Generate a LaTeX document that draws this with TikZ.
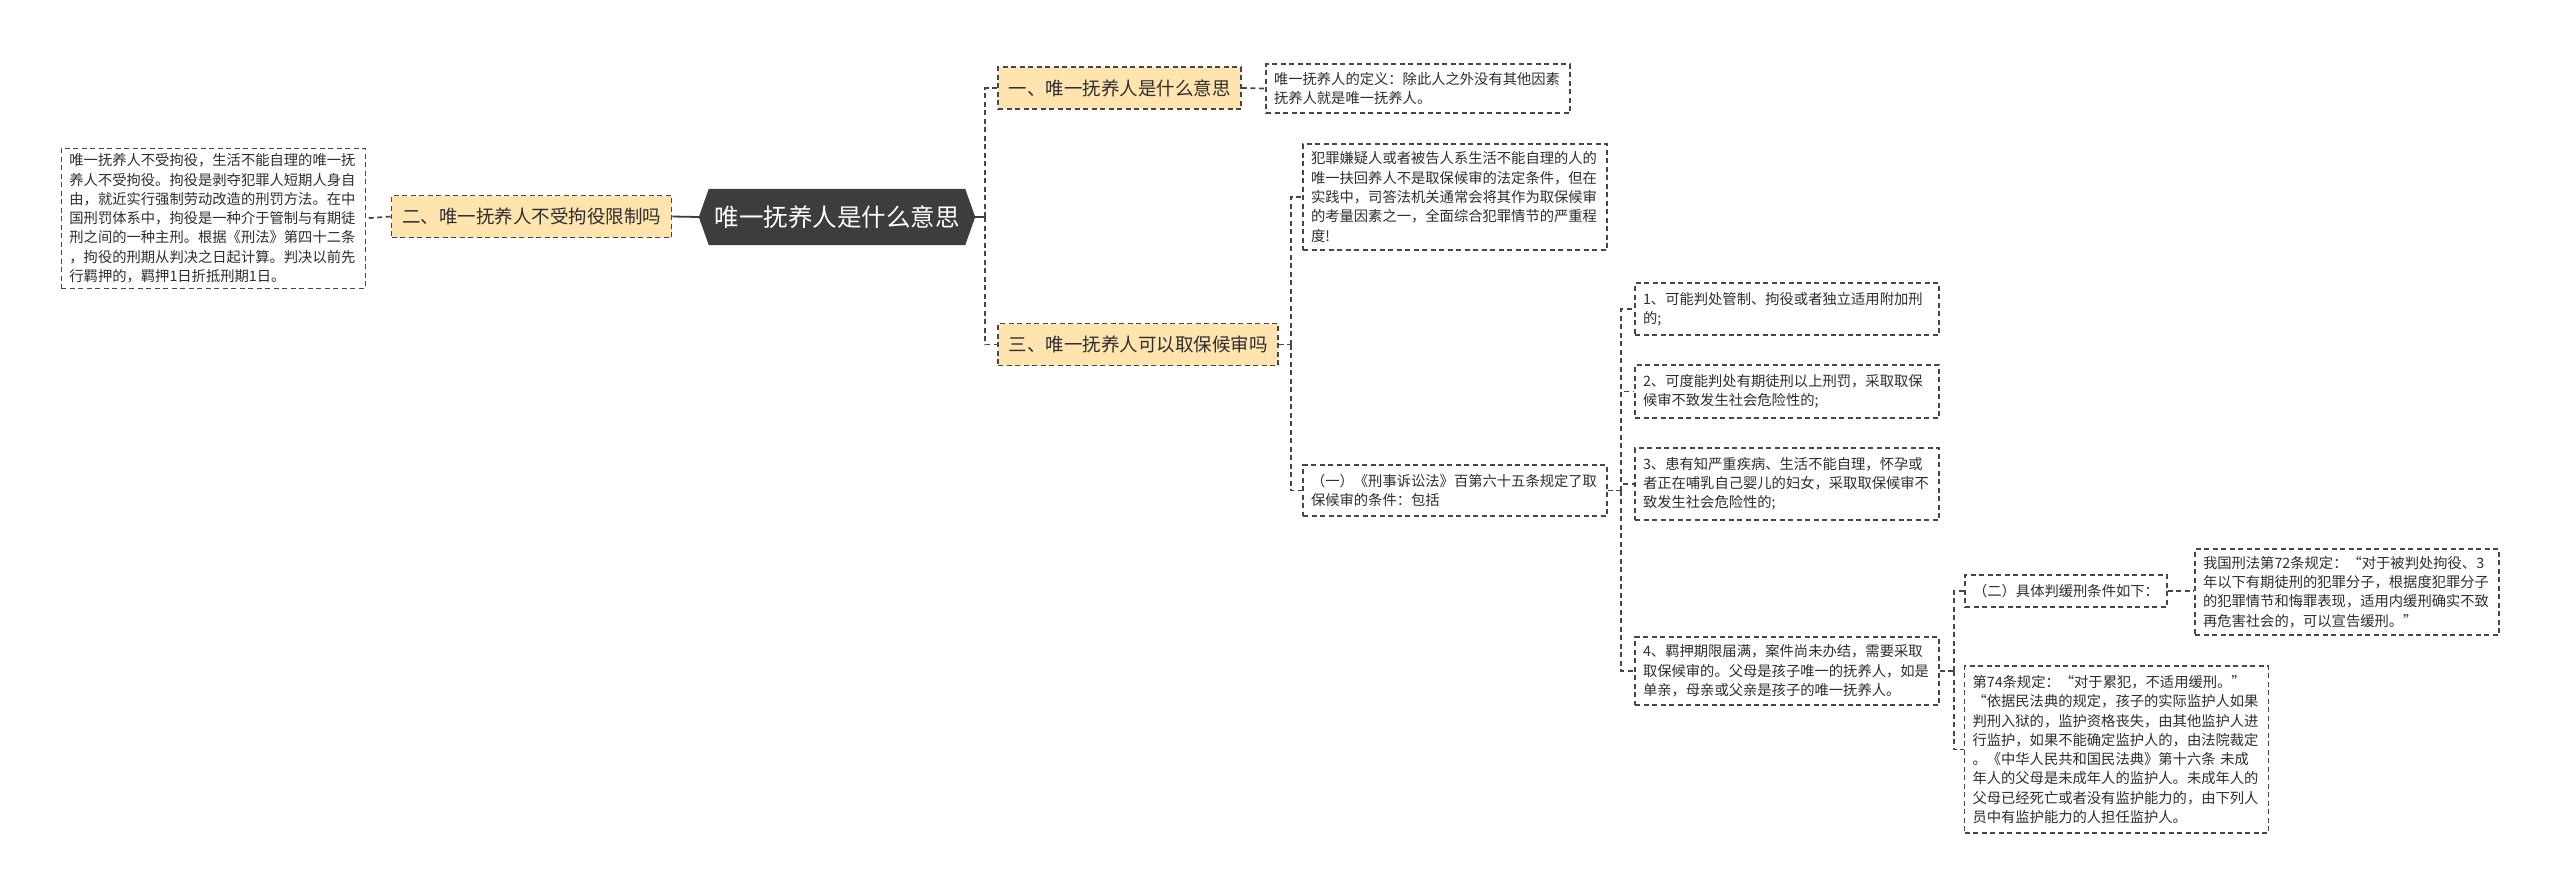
\documentclass[tikz,border=0pt]{standalone}
\usepackage{fontspec}
\setmainfont{Noto Sans CJK SC}
\usetikzlibrary{backgrounds}
\definecolor{lineC}{HTML}{474747}
\definecolor{txtC}{HTML}{2E2E2E}
\definecolor{orangeF}{HTML}{FFE4B0}
\definecolor{rootF}{HTML}{3D3D3D}
\begin{document}
\begin{tikzpicture}[x=1pt,y=-1pt,
  leaf/.style={draw=lineC, line width=1.6pt, dash pattern=on 5pt off 3.5pt, fill=white,
    text=txtC, font=\fontsize{14.3}{19.3}\selectfont, align=left, text width=288pt,
    inner xsep=8pt, inner ysep=0pt, anchor=center},
  leafnat/.style={draw=lineC, line width=1.6pt, dash pattern=on 5pt off 3.5pt, fill=white,
    text=txtC, font=\fontsize{14.3}{19.3}\selectfont, align=left,
    inner xsep=8pt, inner ysep=0pt, anchor=center},
  topic/.style={draw=lineC, line width=1.6pt, dash pattern=on 5pt off 3.5pt, fill=orangeF,
    text=txtC, font=\fontsize{18.5}{22}\selectfont, inner xsep=10.5pt, inner ysep=0pt,
    minimum height=42pt, anchor=center},
  rootnode/.style={text=white, font=\fontsize{24.5}{28}\selectfont, minimum width=276pt,
    minimum height=56pt, inner sep=0pt, anchor=center},
  dconn/.style={draw=lineC, line width=1.7pt, dash pattern=on 5pt off 3.5pt},
  sconn/.style={draw=lineC!85!black, line width=1.8pt}
]
\begin{scope}[on background layer]
\fill[white] (0,0) rectangle (2560,895);
\end{scope}
\useasboundingbox (0,0) rectangle (2560,895);

% root
\node[rootnode] (root) at (837,217) {唯一抚养人是什么意思};
\begin{scope}[on background layer]
\fill[rootF] (root.west) -- ([xshift=10pt]root.north west) -- ([xshift=-10pt]root.north east)
  -- (root.east) -- ([xshift=-10pt]root.south east) -- ([xshift=10pt]root.south west) -- cycle;
\end{scope}

% left branch
\node[topic] (n2) at (531.5,216.5) {二、唯一抚养人不受拘役限制吗};
\node[leaf, minimum height=140pt] (L) at (213.4,218.3) {唯一抚养人不受拘役，生活不能自理的唯一抚\\养人不受拘役。拘役是剥夺犯罪人短期人身自\\由，就近实行强制劳动改造的刑罚方法。在中\\国刑罚体系中，拘役是一种介于管制与有期徒\\刑之间的一种主刑。根据《刑法》第四十二条\\，拘役的刑期从判决之日起计算。判决以前先\\行羁押的，羁押1日折抵刑期1日。};

% right branch topics
\node[topic] (n1) at (1119.5,88) {一、唯一抚养人是什么意思};
\node[topic] (n3) at (1138,344.5) {三、唯一抚养人可以取保候审吗};

\node[leaf, minimum height=49pt] (d1) at (1418,88.5) {唯一抚养人的定义：除此人之外没有其他因素\\抚养人就是唯一抚养人。};

\node[leaf, minimum height=106pt] (c1) at (1455,197) {犯罪嫌疑人或者被告人系生活不能自理的人的\\唯一扶回养人不是取保候审的法定条件，但在\\实践中，司答法机关通常会将其作为取保候审\\的考量因素之一，全面综合犯罪情节的严重程\\度!};
\node[leaf, minimum height=51pt] (c2) at (1455,490.5) {（一）《刑事诉讼法》百第六十五条规定了取\\保候审的条件：包括};

\node[leaf, minimum height=52pt] (b1) at (1787,309) {1、可能判处管制、拘役或者独立适用附加刑\\的;};
\node[leaf, minimum height=53pt] (b2) at (1787,391.5) {2、可度能判处有期徒刑以上刑罚，采取取保\\候审不致发生社会危险性的;};
\node[leaf, minimum height=72pt] (b3) at (1787,484) {3、患有知严重疾病、生活不能自理，怀孕或\\者正在哺乳自己婴儿的妇女，采取取保候审不\\致发生社会危险性的;};
\node[leaf, minimum height=68pt] (b4) at (1787,671) {4、羁押期限届满，案件尚未办结，需要采取\\取保候审的。父母是孩子唯一的抚养人，如是\\单亲，母亲或父亲是孩子的唯一抚养人。};

\node[leafnat, minimum height=32pt] (b5) at (2066,591) {（二）具体判缓刑条件如下：};
\node[leaf, minimum height=86pt] (b6) at (2347,592) {我国刑法第72条规定：“对于被判处拘役、3\\年以下有期徒刑的犯罪分子，根据度犯罪分子\\的犯罪情节和悔罪表现，适用内缓刑确实不致\\再危害社会的，可以宣告缓刑。”};
\node[leaf, minimum height=167pt] (b7) at (2116.5,749.5) {第74条规定：“对于累犯，不适用缓刑。”\\“依据民法典的规定，孩子的实际监护人如果\\判刑入狱的，监护资格丧失，由其他监护人进\\行监护，如果不能确定监护人的，由法院裁定\\。《中华人民共和国民法典》第十六条 未成\\年人的父母是未成年人的监护人。未成年人的\\父母已经死亡或者没有监护能力的，由下列人\\员中有监护能力的人担任监护人。};

% spine coordinates
\coordinate (s1) at ([xshift=10pt]root.east);
\coordinate (s2) at ([xshift=12pt]n3.east);
\coordinate (s3) at ([xshift=13.5pt]c2.east);
\coordinate (s4) at ([xshift=14pt]b4.east);

% connectors
\draw[sconn] (root.west) -- (n2.east);
\draw[dconn] (n2.west) -- (L.east);
\draw[sconn] (root.east) -- (s1);
\draw[dconn] (s1) |- (n1.west);
\draw[dconn] (s1) |- (n3.west);
\draw[dconn] (n1.east) -- (d1.west);
\draw[dconn] (n3.east) -- (s2);
\draw[dconn] (s2) |- (c1.west);
\draw[dconn] (s2) |- (c2.west);
\draw[dconn] (c2.east) -- (s3);
\draw[dconn] (s3) |- (b1.west);
\draw[dconn] (s3) |- (b2.west);
\draw[dconn] (s3) |- (b3.west);
\draw[dconn] (s3) |- (b4.west);
\draw[dconn] (b4.east) -- (s4);
\draw[dconn] (s4) |- (b5.west);
\draw[dconn] (s4) |- (b7.west);
\draw[dconn] (b5.east) -- (b5.east -| b6.west);
\end{tikzpicture}
\end{document}
